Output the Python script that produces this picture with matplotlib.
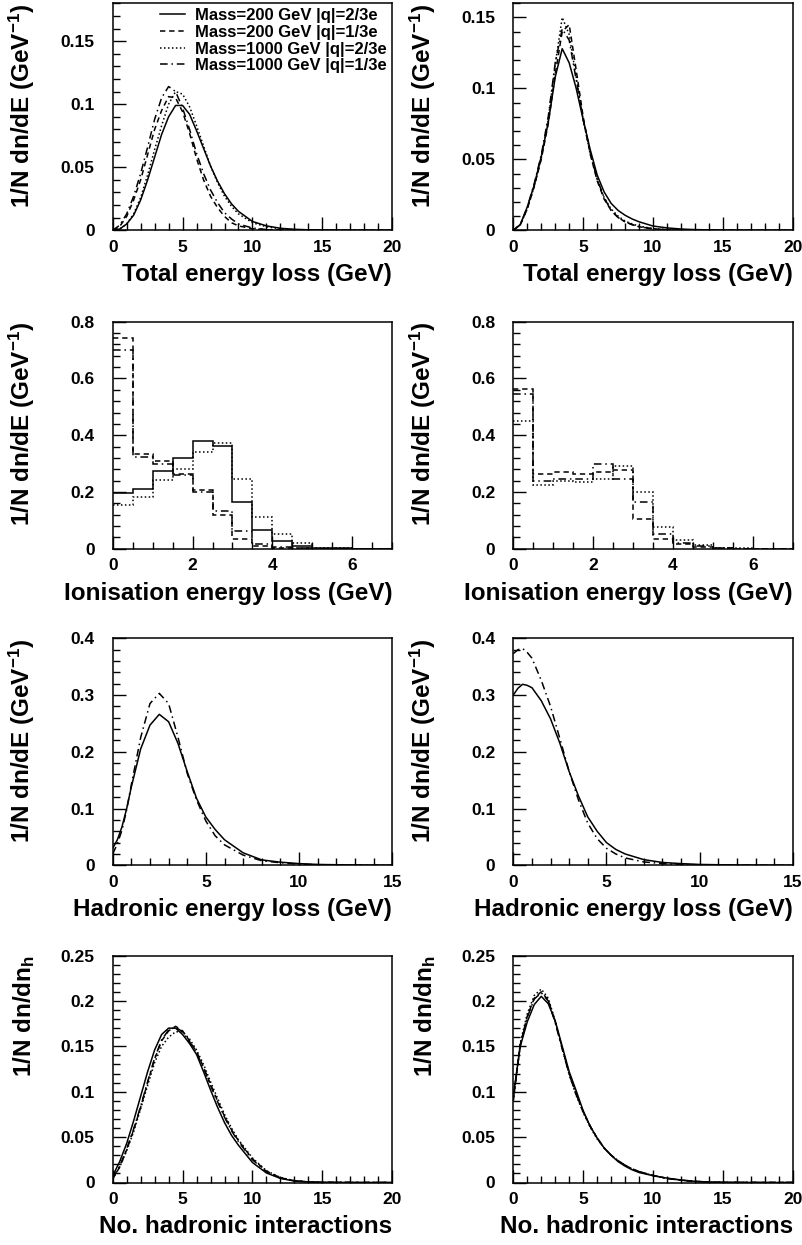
import matplotlib
matplotlib.use("Agg")
import matplotlib.pyplot as plt
from matplotlib.ticker import MultipleLocator, FuncFormatter

plt.rcParams['font.family'] = ['Liberation Sans', 'DejaVu Sans']
plt.rcParams['font.weight'] = 'bold'
plt.rcParams['mathtext.fontset'] = 'custom'
plt.rcParams['mathtext.rm'] = 'Liberation Sans:bold'
plt.rcParams['mathtext.bf'] = 'Liberation Sans:bold'
plt.rcParams['mathtext.default'] = 'bf'

labels = ['Mass=200 GeV |q|=2/3e', 'Mass=200 GeV |q|=1/3e',
          'Mass=1000 GeV |q|=2/3e', 'Mass=1000 GeV |q|=1/3e']

# --- total energy loss, left (GeV)
tot_x = [0, 0.5, 1, 1.5, 2, 2.5, 3, 3.5, 4, 4.5, 5, 5.5, 6, 6.5, 7, 7.5, 8, 8.5, 9, 10, 11, 12, 13, 14, 15, 16, 18, 20]
tot_l_m200_q23 = [0, 0.001, 0.005, 0.012, 0.024, 0.04, 0.058, 0.076, 0.09, 0.099, 0.099, 0.092, 0.079, 0.065, 0.051,
                  0.039, 0.029, 0.021, 0.015, 0.007, 0.0035, 0.0016, 0.0008, 0.0004, 0.0002, 0.0001, 0, 0]
tot_l_m200_q13 = [0, 0.003, 0.011, 0.024, 0.04, 0.06, 0.08, 0.095, 0.106, 0.105, 0.094, 0.077, 0.057, 0.040, 0.027,
                  0.018, 0.011, 0.006, 0.0035, 0.0012, 0.0004, 0.0001, 0, 0, 0, 0, 0, 0]
tot_l_m1000_q23 = [0, 0.001, 0.005, 0.013, 0.026, 0.044, 0.064, 0.083, 0.100, 0.110, 0.108, 0.098, 0.083, 0.067, 0.051,
                   0.038, 0.027, 0.019, 0.013, 0.006, 0.0028, 0.0012, 0.0005, 0.0002, 0.0001, 0, 0, 0]
tot_l_m1000_q13 = [0, 0.004, 0.013, 0.027, 0.045, 0.066, 0.088, 0.105, 0.114, 0.110, 0.097, 0.080, 0.061, 0.045, 0.032,
                   0.022, 0.014, 0.009, 0.005, 0.0018, 0.0006, 0.0002, 0, 0, 0, 0, 0, 0]

# --- total energy loss, right
tot_r_m200_q23 = [0, 0.004, 0.0165, 0.032, 0.052, 0.076, 0.108, 0.128, 0.118, 0.100, 0.078, 0.057, 0.039, 0.027, 0.019,
                  0.014, 0.0106, 0.008, 0.006, 0.003, 0.0017, 0.0009, 0.0005, 0.0003, 0.0001, 0, 0, 0]
tot_r_m200_q13 = [0, 0.004, 0.015, 0.031, 0.050, 0.075, 0.110, 0.140, 0.145, 0.113, 0.080, 0.054, 0.035, 0.022, 0.014,
                  0.009, 0.006, 0.004, 0.0025, 0.001, 0.0004, 0.0001, 0, 0, 0, 0, 0, 0]
tot_r_m1000_q23 = [0, 0.004, 0.015, 0.031, 0.051, 0.078, 0.117, 0.150, 0.138, 0.108, 0.078, 0.054, 0.036, 0.023, 0.015,
                   0.010, 0.0065, 0.0045, 0.003, 0.0012, 0.0005, 0.0002, 0, 0, 0, 0, 0, 0]
tot_r_m1000_q13 = [0, 0.004, 0.016, 0.033, 0.053, 0.080, 0.118, 0.142, 0.134, 0.106, 0.078, 0.055, 0.036, 0.023, 0.014,
                   0.009, 0.006, 0.004, 0.0025, 0.001, 0.0004, 0.0001, 0, 0, 0, 0, 0, 0]

# --- ionisation energy loss histograms (bin width 0.5 GeV)
ion_edges = [0, 0.5, 1, 1.5, 2, 2.5, 3, 3.5, 4, 4.5, 5, 5.5, 6, 6.5, 7]
ion_l_m200_q23 = [0.198, 0.212, 0.273, 0.32, 0.38, 0.361, 0.166, 0.065, 0.026, 0.008, 0.002, 0.001, 0, 0]
ion_l_m200_q13 = [0.741, 0.332, 0.308, 0.265, 0.208, 0.118, 0.035, 0.008, 0.003, 0.001, 0, 0, 0, 0]
ion_l_m1000_q23 = [0.153, 0.182, 0.243, 0.282, 0.341, 0.373, 0.247, 0.112, 0.053, 0.021, 0.004, 0.001, 0, 0]
ion_l_m1000_q13 = [0.702, 0.324, 0.30, 0.259, 0.2, 0.133, 0.061, 0.018, 0.006, 0.002, 0, 0, 0, 0]

ion_r_m200_q13 = [0.562, 0.265, 0.27, 0.265, 0.27, 0.276, 0.106, 0.035, 0.018, 0.006, 0.002, 0, 0, 0]
ion_r_m1000_q23 = [0.45, 0.224, 0.24, 0.235, 0.245, 0.292, 0.20, 0.076, 0.03, 0.012, 0.004, 0.001, 0, 0]
ion_r_m1000_q13 = [0.545, 0.24, 0.245, 0.245, 0.30, 0.247, 0.165, 0.053, 0.02, 0.008, 0.002, 0, 0, 0]

# --- hadronic energy loss
had_x = [0, 0.25, 0.5, 0.75, 1, 1.5, 2, 2.5, 3, 3.5, 4, 4.5, 5, 5.5, 6, 7, 8, 9, 10, 11, 12, 13, 14, 15]
had_l_m200_q23 = [0.03, 0.045, 0.068, 0.100, 0.138, 0.205, 0.247, 0.266, 0.253, 0.215, 0.165, 0.118, 0.085, 0.063,
                  0.045, 0.022, 0.0095, 0.0055, 0.003, 0.0015, 0.001, 0.0005, 0.0002, 0.0001]
had_l_other = [0.02, 0.038, 0.062, 0.098, 0.142, 0.225, 0.285, 0.303, 0.285, 0.226, 0.162, 0.115, 0.078, 0.052,
               0.036, 0.018, 0.008, 0.0045, 0.002, 0.001, 0.0005, 0.0002, 0.0001, 0]
had_r_m200_q23 = [0.30, 0.312, 0.319, 0.317, 0.313, 0.29, 0.258, 0.215, 0.165, 0.122, 0.085, 0.060, 0.040, 0.028,
                  0.020, 0.010, 0.005, 0.003, 0.0015, 0.001, 0.0005, 0.0002, 0.0001, 0]
had_r_other = [0.373, 0.38, 0.382, 0.375, 0.365, 0.326, 0.28, 0.223, 0.165, 0.115, 0.074, 0.047, 0.030, 0.020,
               0.013, 0.006, 0.003, 0.0015, 0.0008, 0.0004, 0.0002, 0.0001, 0, 0]

# --- number of hadronic interactions
nh_x = [0, 0.5, 1, 1.5, 2, 2.5, 3, 3.5, 4, 4.5, 5, 5.5, 6, 6.5, 7, 7.5, 8, 8.5, 9, 10, 11, 12, 13, 14, 15, 16, 18, 20]
nh_l_m200_q23 = [0.0074, 0.023, 0.043, 0.068, 0.095, 0.122, 0.146, 0.163, 0.170, 0.170, 0.163, 0.153, 0.141, 0.122,
                 0.102, 0.083, 0.066, 0.052, 0.041, 0.022, 0.0105, 0.0045, 0.0016, 0.0006, 0.0002, 0.0001, 0, 0]
nh_l_m200_q13 = [0.004, 0.017, 0.036, 0.058, 0.083, 0.110, 0.136, 0.156, 0.167, 0.172, 0.167, 0.156, 0.144, 0.127,
                 0.108, 0.090, 0.073, 0.058, 0.046, 0.026, 0.0125, 0.0052, 0.0019, 0.0007, 0.0002, 0.0001, 0, 0]
nh_l_m1000_q23 = [0.004, 0.017, 0.035, 0.056, 0.081, 0.107, 0.132, 0.150, 0.160, 0.166, 0.166, 0.158, 0.146, 0.130,
                  0.111, 0.093, 0.075, 0.060, 0.047, 0.027, 0.013, 0.0055, 0.002, 0.0007, 0.0002, 0.0001, 0, 0]
nh_l_m1000_q13 = [0.005, 0.018, 0.037, 0.059, 0.084, 0.111, 0.137, 0.157, 0.168, 0.171, 0.166, 0.155, 0.143, 0.126,
                  0.107, 0.089, 0.072, 0.057, 0.045, 0.025, 0.012, 0.005, 0.0018, 0.0006, 0.0002, 0.0001, 0, 0]
nh_r_m200_q23 = [0.096, 0.150, 0.177, 0.196, 0.205, 0.197, 0.178, 0.150, 0.122, 0.101, 0.079, 0.062, 0.049, 0.038,
                 0.030, 0.023, 0.018, 0.014, 0.011, 0.0075, 0.0048, 0.0028, 0.0013, 0.0005, 0.0002, 0.0001, 0, 0]
nh_r_m200_q13 = [0.09, 0.152, 0.183, 0.203, 0.210, 0.201, 0.177, 0.148, 0.120, 0.097, 0.078, 0.062, 0.049, 0.038,
                 0.030, 0.024, 0.019, 0.015, 0.012, 0.0077, 0.0045, 0.0025, 0.0012, 0.0005, 0.0002, 0.0001, 0, 0]
nh_r_m1000_q23 = [0.09, 0.154, 0.186, 0.206, 0.213, 0.203, 0.178, 0.148, 0.119, 0.096, 0.077, 0.061, 0.048, 0.038,
                  0.030, 0.024, 0.019, 0.015, 0.012, 0.0077, 0.0045, 0.0025, 0.0012, 0.0005, 0.0002, 0.0001, 0, 0]
nh_r_m1000_q13 = [0.092, 0.151, 0.182, 0.202, 0.209, 0.200, 0.176, 0.147, 0.119, 0.097, 0.078, 0.062, 0.049, 0.038,
                  0.030, 0.024, 0.019, 0.015, 0.012, 0.0077, 0.0045, 0.0025, 0.0012, 0.0005, 0.0002, 0.0001, 0, 0]

styles = ['-', (0, (3.5, 2.5)), (0, (1, 1.6)), (0, (5, 2.5, 1, 2.5))]
lw = 1.1

fig = plt.figure(figsize=(8.03, 12.45), dpi=100)
W, H = 803, 1245
cols = [112.7, 513.3]
aw = 279.5
rows = [3.3, 321.7, 638.3, 955.5]
ah = 227


def make_ax(r, c):
    return fig.add_axes([cols[c] / W, 1 - (rows[r] + ah) / H, aw / W, ah / H])


def style(ax, xmax, xmaj, xmin, ymax, ymaj, ymin, xlabel, ylabel):
    ax.set_xlim(0, xmax)
    ax.set_ylim(0, ymax)
    ax.xaxis.set_major_locator(MultipleLocator(xmaj))
    ax.xaxis.set_minor_locator(MultipleLocator(xmin))
    ax.yaxis.set_major_locator(MultipleLocator(ymaj))
    ax.yaxis.set_minor_locator(MultipleLocator(ymin))
    ax.xaxis.set_major_formatter(FuncFormatter(lambda v, p: '%g' % round(v, 4)))
    ax.yaxis.set_major_formatter(FuncFormatter(lambda v, p: '%g' % round(v, 4)))
    ax.tick_params(which='both', direction='in', top=False, right=False, width=1.0)
    ax.tick_params(which='major', length=9.5)
    ax.tick_params(which='minor', length=4.8)
    ax.tick_params(axis='x', which='major', pad=7, labelsize=12.5)
    ax.tick_params(axis='y', which='major', pad=13, labelsize=12.5)
    for s in ax.spines.values():
        s.set_linewidth(1.1)
    ax.set_xlabel(xlabel, fontsize=17.5, fontweight='bold', loc='right')
    ax.xaxis.set_label_coords(1.0, -0.145)
    ax.set_ylabel(ylabel, fontsize=17.5, fontweight='bold', loc='top')
    ax.yaxis.set_label_coords(-0.27, 1.0)


ylab_e = r'1/N dn/dE (GeV$^{-1}$)'
ylab_n = r'1/N dn/dn$_{h}$'

# row 1
ax = make_ax(0, 0)
for ys, ls, lab in zip([tot_l_m200_q23, tot_l_m200_q13, tot_l_m1000_q23, tot_l_m1000_q13], styles, labels):
    ax.plot(tot_x, ys, color='black', lw=lw, linestyle=ls, label=lab)
style(ax, 20, 5, 1, 0.18, 0.05, 0.01, 'Total energy loss (GeV)', ylab_e)
ax.legend(loc='upper right', frameon=False, handlelength=1.5, handletextpad=0.6,
          labelspacing=0.1, borderaxespad=0.1, borderpad=0.2,
          prop={'family': ['Liberation Sans', 'DejaVu Sans'], 'weight': 'bold', 'size': 12})

ax = make_ax(0, 1)
for ys, ls in zip([tot_r_m200_q23, tot_r_m200_q13, tot_r_m1000_q23, tot_r_m1000_q13], styles):
    ax.plot(tot_x, ys, color='black', lw=lw, linestyle=ls)
style(ax, 20, 5, 1, 0.16, 0.05, 0.01, 'Total energy loss (GeV)', ylab_e)

# row 2
ax = make_ax(1, 0)
for ys, ls in zip([ion_l_m200_q23, ion_l_m200_q13, ion_l_m1000_q23, ion_l_m1000_q13], styles):
    ax.stairs(ys, ion_edges, baseline=None, color='black', lw=lw, linestyle=ls)
style(ax, 7, 2, 0.5, 0.8, 0.2, 0.04, 'Ionisation energy loss (GeV)', ylab_e)

ax = make_ax(1, 1)
for ys, ls in zip([ion_r_m200_q13, ion_r_m1000_q23, ion_r_m1000_q13], styles[1:]):
    ax.stairs(ys, ion_edges, baseline=None, color='black', lw=lw, linestyle=ls)
style(ax, 7, 2, 0.5, 0.8, 0.2, 0.04, 'Ionisation energy loss (GeV)', ylab_e)

# row 3
ax = make_ax(2, 0)
ax.plot(had_x, had_l_m200_q23, color='black', lw=lw, linestyle=styles[0])
ax.plot(had_x, had_l_other, color='black', lw=lw, linestyle=styles[3])
style(ax, 15, 5, 1, 0.4, 0.1, 0.02, 'Hadronic energy loss (GeV)', ylab_e)

ax = make_ax(2, 1)
ax.plot(had_x, had_r_m200_q23, color='black', lw=lw, linestyle=styles[0])
ax.plot(had_x, had_r_other, color='black', lw=lw, linestyle=styles[3])
style(ax, 15, 5, 1, 0.4, 0.1, 0.02, 'Hadronic energy loss (GeV)', ylab_e)

# row 4
ax = make_ax(3, 0)
for ys, ls in zip([nh_l_m200_q23, nh_l_m200_q13, nh_l_m1000_q23, nh_l_m1000_q13], styles):
    ax.plot(nh_x, ys, color='black', lw=lw, linestyle=ls)
style(ax, 20, 5, 1, 0.25, 0.05, 0.01, 'No. hadronic interactions', ylab_n)

ax = make_ax(3, 1)
for ys, ls in zip([nh_r_m200_q23, nh_r_m200_q13, nh_r_m1000_q23, nh_r_m1000_q13], styles):
    ax.plot(nh_x, ys, color='black', lw=lw, linestyle=ls)
style(ax, 20, 5, 1, 0.25, 0.05, 0.01, 'No. hadronic interactions', ylab_n)

fig.savefig('out.png', dpi=100)
plt.close(fig)
